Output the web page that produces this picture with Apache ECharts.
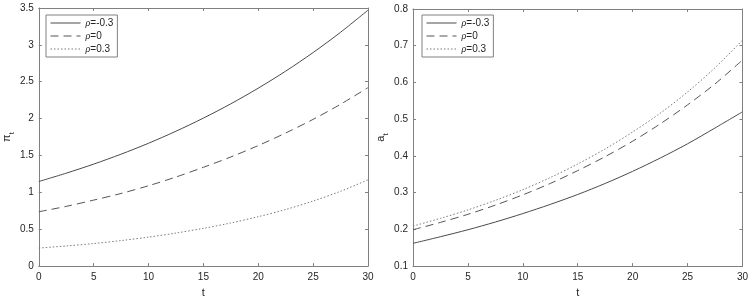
<!DOCTYPE html>
<html>
<head>
<meta charset="utf-8">
<script src="https://cdn.jsdelivr.net/npm/echarts@6/dist/echarts.min.js"></script>
<style>
html, body { margin: 0; padding: 0; background: #fff; }
#main { width: 751px; height: 303px; }
</style>
</head>
<body>
<div id="main"></div>
<script>
// 时间刻度
var tValues = [0, 2.5, 5, 7.5, 10, 12.5, 15, 17.5, 20, 22.5, 25, 27.5, 30];
// 图例名称
var seriesNames = ['ρ=-0.3', 'ρ=0', 'ρ=0.3'];
// 左图 π_t
var piNeg = [1.147, 1.26, 1.383, 1.518, 1.666, 1.829, 2.007, 2.201, 2.413, 2.644, 2.896, 3.171, 3.471];
var piZero = [0.737, 0.81, 0.895, 0.985, 1.09, 1.208, 1.34, 1.48, 1.635, 1.805, 1.99, 2.195, 2.42];
var piPos = [0.245, 0.273, 0.306, 0.346, 0.393, 0.448, 0.512, 0.585, 0.67, 0.768, 0.882, 1.015, 1.17];
// 右图 a_t
var aNeg = [0.162, 0.180, 0.199, 0.220, 0.243, 0.268, 0.295, 0.325, 0.358, 0.394, 0.433, 0.476, 0.52];
var aZero = [0.199, 0.219, 0.241, 0.266, 0.294, 0.325, 0.36, 0.398, 0.44, 0.487, 0.539, 0.596, 0.661];
var aPos = [0.209, 0.23, 0.253, 0.279, 0.308, 0.341, 0.378, 0.419, 0.465, 0.516, 0.574, 0.64, 0.715];

var axisColor = '#808080';
var textColor = '#262626';
var lineColors = ['#4a4a4a', '#555555', '#7a7a7a'];
var dashTypes = ['solid', [8, 5], [1.5, 2]];

var pairs = function(ys) {
	var out = [];
	for (var i = 0; i < tValues.length; i++) {
		out.push([tValues[i], ys[i]]);
	}
	return out;
};

var xAxisBase = function(gridIndex, pos, showLabel, name) {
	return {
		type: 'value', gridIndex: gridIndex, position: pos,
		min: 0, max: 30, interval: 5,
		name: name || '', nameLocation: 'middle', nameGap: 20,
		nameTextStyle: { color: textColor, fontSize: 11, fontFamily: 'Liberation Sans' },
		axisLine: { show: true, onZero: false, lineStyle: { color: axisColor } },
		axisTick: { show: true, inside: true, length: 3, lineStyle: { color: axisColor } },
		axisLabel: { show: showLabel, color: textColor, fontSize: 10, fontFamily: 'Liberation Sans', margin: 6 },
		splitLine: { show: false }
	};
};

var yAxisBase = function(gridIndex, pos, min, max, step, showLabel, name, gap) {
	return {
		type: 'value', gridIndex: gridIndex, position: pos,
		min: min, max: max, interval: step,
		name: name || '', nameLocation: 'middle', nameGap: gap || 25, nameRotate: 90,
		nameTextStyle: {
			color: textColor, fontSize: 11, fontFamily: 'Liberation Sans',
			rich: {
				m: { fontSize: 11, color: textColor, fontFamily: 'Liberation Sans' },
				s: { fontSize: 8, color: textColor, fontFamily: 'Liberation Sans', verticalAlign: 'bottom', padding: [0, 0, -4, 0] }
			}
		},
		axisLine: { show: true, onZero: false, lineStyle: { color: axisColor } },
		axisTick: { show: true, inside: true, length: 3, lineStyle: { color: axisColor } },
		axisLabel: { show: showLabel, color: textColor, fontSize: 10, fontFamily: 'Liberation Sans', margin: 5 },
		splitLine: { show: false }
	};
};

var makeSeries = function(name, data, k, xi, yi) {
	return {
		name: name, type: 'line', xAxisIndex: xi, yAxisIndex: yi,
		data: pairs(data), smooth: 0.3, symbol: 'none', showSymbol: false,
		lineStyle: { color: lineColors[k], width: 1, type: dashTypes[k] },
		itemStyle: { color: lineColors[k] },
		silent: true
	};
};

var legendBase = function(left) {
	return {
		data: seriesNames, orient: 'vertical', left: left, top: 15,
		itemWidth: 30, itemHeight: 9, itemGap: 3,
		padding: [3, 4, 3, 4],
		borderColor: axisColor, borderWidth: 1, backgroundColor: '#fff',
		itemStyle: { opacity: 0 },
		lineStyle: { width: 1 },
		formatter: function(n) { return '{r|ρ}' + n.slice(1); },
		textStyle: {
			color: textColor, fontSize: 10, fontFamily: 'Liberation Sans',
			rich: { r: { fontStyle: 'italic', fontFamily: 'Liberation Serif', fontSize: 10, color: textColor } }
		},
		selectedMode: false
	};
};

var chart = echarts.init(document.getElementById('main'));
chart.setOption({
	animation: false,
	backgroundColor: '#fff',
	grid: [
		{ left: 38, top: 8, width: 330, height: 261 },
		{ left: 413, top: 9, width: 330, height: 260 }
	],
	legend: [legendBase(46), legendBase(422)],
	xAxis: [
		xAxisBase(0, 'bottom', true, 't'),
		xAxisBase(0, 'top', false),
		xAxisBase(1, 'bottom', true, 't'),
		xAxisBase(1, 'top', false)
	],
	yAxis: [
		yAxisBase(0, 'left', 0, 3.5, 0.5, true, '{m|π}{s|t}', 24),
		yAxisBase(0, 'right', 0, 3.5, 0.5, false),
		yAxisBase(1, 'left', 0.1, 0.8, 0.1, true, '{m|a}{s|t}', 26),
		yAxisBase(1, 'right', 0.1, 0.8, 0.1, false)
	],
	series: [
		makeSeries(seriesNames[0], piNeg, 0, 0, 0),
		makeSeries(seriesNames[1], piZero, 1, 0, 0),
		makeSeries(seriesNames[2], piPos, 2, 0, 0),
		makeSeries(seriesNames[0], aNeg, 0, 2, 2),
		makeSeries(seriesNames[1], aZero, 1, 2, 2),
		makeSeries(seriesNames[2], aPos, 2, 2, 2)
	]
});
</script>
</body>
</html>
